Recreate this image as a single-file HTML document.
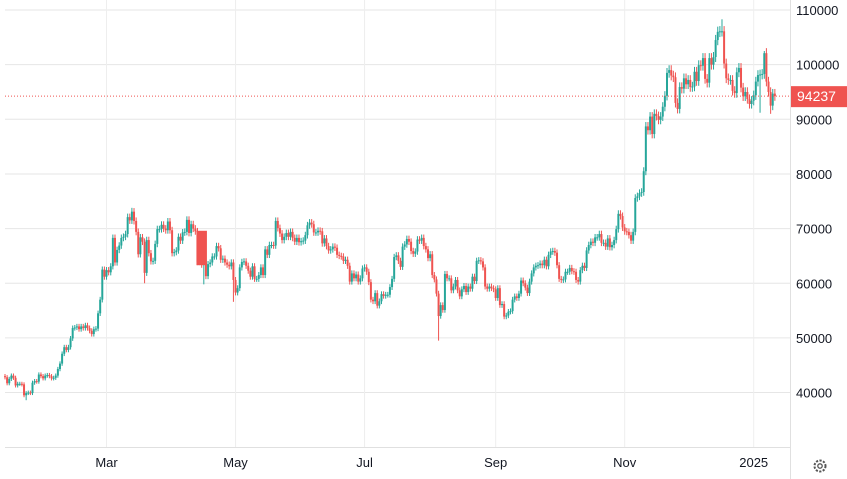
<!DOCTYPE html>
<html><head><meta charset="utf-8">
<style>
html,body{margin:0;padding:0;background:#fff;}
svg{display:block;font-family:"Liberation Sans",sans-serif;}
</style></head>
<body>
<svg id="chart" width="847" height="479" xmlns="http://www.w3.org/2000/svg">
  <g id="grid"></g>
  <g id="candles"></g>
  <g id="yaxis"></g>
  <g id="xaxis"></g>
  <g transform="translate(820,466)">
    <circle r="5.5" fill="none" stroke="#555" stroke-width="2" stroke-dasharray="2.2 1.4"/>
    <circle r="2.2" fill="none" stroke="#555" stroke-width="1.3"/>
  </g>
</svg>
<script>
// Daily closes from 2024-01-13 to 2025-01-11
const closes = [
42800,41700,42500,43100,42700,41300,41600,41600,41500,39500,39900,40000,39900,41800,42100,42000,43300,43000,42600,
43100,43200,43000,42600,42700,43100,44300,45300,47100,48300,47800,48300,49900,51800,51900,52100,51600,52100,51800,52300,51800,51300,50700,51600,51700,54500,57000,62500,61200,
62400,62000,63100,68300,63800,66100,66900,68300,68500,69000,72100,71500,73100,71400,69400,65300,68400,67600,61900,67900,65500,64000,64100,67200,69900,69900,70700,70000,69700,71300,69700,
65500,65700,66000,68500,67800,69300,69400,71600,69200,70800,70000,69500,63900,65700,63400,63800,61300,63500,63800,64900,64900,66800,66400,64300,64500,63800,63400,63100,63800,60600,
58300,59100,62900,63900,64000,63200,62300,61200,63100,60800,60800,61500,62900,61500,66200,65200,67000,67000,66900,71400,70100,69100,67900,68500,69200,68500,69400,68300,67600,68300,67500,
67700,67800,68800,70600,71100,70800,69300,69300,69600,69500,67300,68200,66800,66000,66200,66700,66500,65200,65000,64900,64100,64300,63200,60300,61800,60900,61600,60300,60900,62700,
62900,62100,60200,57000,56700,58200,55900,56700,58000,57700,57900,57900,59300,60800,64800,65100,64100,63000,66700,67100,68100,67600,65900,65400,65800,68000,67800,68300,66800,66200,64600,
65300,61500,60700,58100,54000,56000,55100,61700,60900,60900,58700,59400,60600,58700,57600,58900,59500,58400,59400,59000,61200,60400,64100,64200,64000,62900,59400,59000,59400,59100,58900,
57300,59100,56000,56200,53900,54100,54800,54900,57000,57600,57300,58100,60500,60000,59200,58200,60300,61800,62900,63200,63300,63600,63300,64300,63100,65200,65800,65900,65600,63300,
60800,60600,60700,62100,62100,62800,62200,62100,60600,60300,62400,63200,62800,66000,67000,67600,67400,68400,68400,69000,67400,67400,66700,68200,66600,67000,67900,69900,72700,72300,70200,
69500,69400,68800,67800,69400,75600,75900,76500,76700,80500,88700,88000,90500,87300,91000,90600,89900,90500,92300,94300,98500,99000,98000,97700,93000,91900,95900,95600,97500,96400,
97200,95900,96000,98700,97000,99900,99800,101200,97400,96700,101200,100000,101400,104500,106000,106100,106100,100200,97500,97200,97200,95200,94800,98600,99400,95800,94200,95000,93700,92800,93400,
94400,96900,98100,98200,98300,102100,96900,95000,92500,94700,94237
];
const firstOpen = 43000;
// notable wick extremes (index -> price)
const lowSpikes = {10:38600, 205:49500, 94:59800, 108:56600, 357:91200, 362:91000, 66:60000};
const highSpikes = {60:73800, 339:108300, 359:102500};
// wide gap candle (start index, end index, top price, bottom price)
const gapCandle = [91, 95, 69600, 63300];
const yTicks = [40000,50000,60000,70000,80000,90000,100000,110000];
const xLabels = ["Mar","May","Jul","Sep","Nov","2025"];
const xLabelIdx = [48,109,170,232,293,354];
const lastPrice = 94237;

const NS = "http://www.w3.org/2000/svg";
const plotRight = 790, plotBottom = 447;
function y(v){ return 10 + (110000 - v) * 0.005465; }
function x(i){ return 5 + i * 2.115; }
function mk(tag, attrs, parent){ const e=document.createElementNS(NS,tag); for(const k in attrs) e.setAttribute(k,attrs[k]); parent.appendChild(e); return e; }

const grid = document.getElementById('grid');
const ya = document.getElementById('yaxis');
const xa = document.getElementById('xaxis');
yTicks.forEach(t=>{
  const l = mk('line',{x1:5,x2:plotRight,y1:y(t),y2:y(t),stroke:'#e6e6e6','stroke-width':1},grid);
  
  
  const tx = mk('text',{x:796,y:y(t)+5,'font-size':13,fill:'#131722'},ya);
  tx.textContent = t;
  
  
});
xLabelIdx.forEach((ix,k)=>{
  const l = mk('line',{x1:x(ix),x2:x(ix),y1:0,y2:plotBottom,stroke:'#eeeeee','stroke-width':1},grid);
  
  
  const tx = mk('text',{x:x(ix),y:467,'font-size':13,fill:'#131722','text-anchor':'middle'},xa);
  tx.textContent = xLabels[k];
  
  
});
const bl = mk('line',{x1:5,x2:plotRight,y1:plotBottom+0.5,y2:plotBottom+0.5,stroke:'#e0e0e0'},grid);


const rl = mk('line',{x1:plotRight+0.5,x2:plotRight+0.5,y1:0,y2:479,stroke:'#e0e0e0'},grid);



const cg = document.getElementById('candles');
let prev = firstOpen;
closes.forEach((c,i)=>{
  const o = prev; prev = c;
  const up = c >= o;
  const col = up ? '#26a69a' : '#ef5350';
  let hi = Math.max(o,c), lo = Math.min(o,c);
  hi += hi*0.009; lo -= lo*0.009;
  if (highSpikes[i]) hi = highSpikes[i];
  if (lowSpikes[i]) lo = lowSpikes[i];
  const cx = x(i);
  const w = mk('line',{x1:cx,x2:cx,y1:y(hi),y2:y(lo),stroke:col,'stroke-width':1},cg);
  
  
  const bt = y(Math.max(o,c)), bb = y(Math.min(o,c));
  const b = mk('rect',{x:cx-1,y:bt,width:2,height:Math.max(1,bb-bt),fill:col},cg);
  
  
});
const gc = mk('rect',{x:x(gapCandle[0])-1,y:y(gapCandle[2]),width:x(gapCandle[1])-x(gapCandle[0])+2,height:y(gapCandle[3])-y(gapCandle[2]),fill:'#ef5350'},cg);



const pl = mk('line',{x1:5,x2:plotRight,y1:y(lastPrice),y2:y(lastPrice),stroke:'#ef5350','stroke-width':1,'stroke-dasharray':'1 2'},cg);


const pb = mk('rect',{x:791,y:y(lastPrice)-10,width:56,height:21,fill:'#ef5350'},ya);


const pt = mk('text',{x:797,y:y(lastPrice)+5,'font-size':14,fill:'#fff'},ya);
pt.textContent = lastPrice;


</script>
</body></html>
